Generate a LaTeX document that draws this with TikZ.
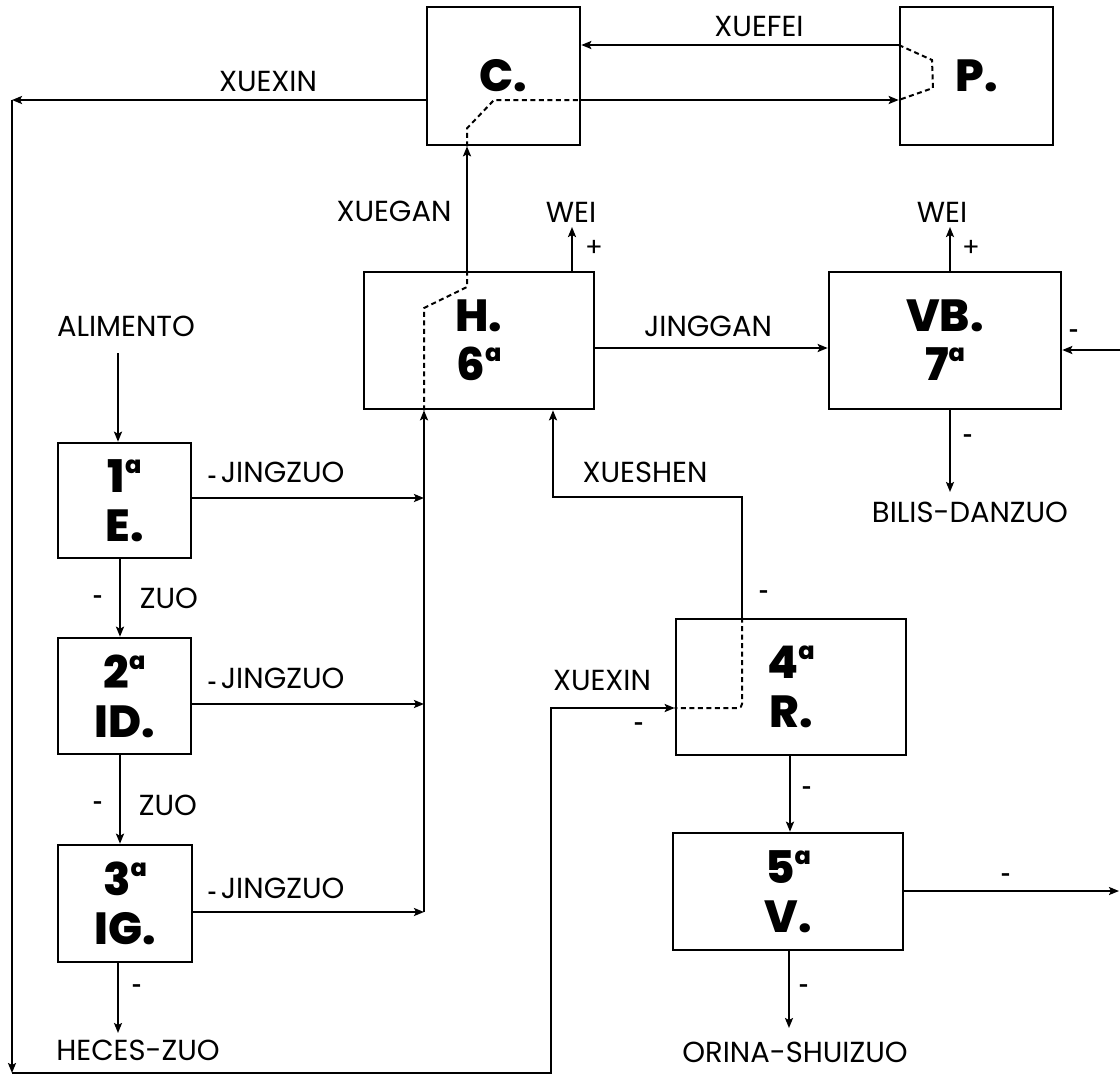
\documentclass[tikz,border=0pt]{standalone}
\usepackage{fontspec}
\setmainfont{Poppins}[BoldFont={Poppins ExtraBold}]
\usetikzlibrary{arrows.meta}
\newcommand\ordA{\raisebox{19pt}{\fontsize{24}{24}\selectfont a}}
\begin{document}
\begin{tikzpicture}[x=1pt,y=-1pt,
  box/.style={draw, line width=2.6pt, inner sep=0pt, align=center, font=\fontsize{45}{49}\selectfont\bfseries},
  lbl/.style={font=\fontsize{29}{30}\selectfont, inner sep=0pt},
  sgn/.style={font=\fontsize{16}{16}\selectfont\bfseries, inner sep=0pt},
  pls/.style={font=\fontsize{26}{26}\selectfont, inner sep=0pt},
  con/.style={line width=2.3pt},
  arr/.style={con, -{Stealth[length=10pt,width=8pt,inset=2pt]}},
  dsh/.style={line width=2pt, dash pattern=on 5pt off 3.5pt},
]
\useasboundingbox (0,0) rectangle (1120,1077);

% boxes
\node[box, minimum width=153pt, minimum height=138pt] (C) at (503.5,76) {C.};
\node[box, minimum width=153pt, minimum height=138pt] (P) at (976.5,76) {P.};
\node[box, minimum width=230pt, minimum height=137pt] (H) at (479,340.5) {H.\\6\ordA};
\node[box, minimum width=232pt, minimum height=137pt] (VB) at (945,340.5) {VB.\\7\ordA};
\node[box, minimum width=230pt, minimum height=136pt] (R) at (791,687) {4\ordA\\R.};
\node[box, minimum width=230pt, minimum height=117pt] (V) at (788,891.5) {5\ordA\\V.};
\node[box, minimum width=133pt, minimum height=115pt] (E) at (124.5,500.5) {1\ordA\\E.};
\node[box, minimum width=133pt, minimum height=116pt] (ID) at (124.5,696) {2\ordA\\ID.};
\node[box, minimum width=134pt, minimum height=117pt] (IG) at (125,903.5) {3\ordA\\IG.};

% helper coordinates
\coordinate (a0) at (118,353);
\coordinate (J1) at (424,498);
\coordinate (J2) at (424,704);
\coordinate (J3) at (424,912);
\coordinate (hz) at (118,1033);
\coordinate (xg) at (467,200);
\coordinate (w1) at (572,227);
\coordinate (w2) at (950,227);
\coordinate (jg) at (700,348);
\coordinate (bd) at (950,492);
\coordinate (rin) at (1120,350);
\coordinate (fe) at (740,45);
\coordinate (cp) at (740,100);
\coordinate (tl) at (12,100);
\coordinate (bl) at (12,1073);
\coordinate (br) at (551,1073);
\coordinate (rx) at (551,708);
\coordinate (s1) at (742,497);
\coordinate (s2) at (553,497);
\coordinate (rv) at (790,760);
\coordinate (vout) at (1119,891);
\coordinate (oz) at (789,1028);

% labels
\node[lbl] (lxuexin) at (268,81) {XUEXIN};
\node[lbl] (lxuefei) at (759,26) {XUEFEI};
\node[lbl] (lxuegan) at (394,211) {XUEGAN};
\node[lbl] (lwei1) at (571,212) {WEI};
\node[lbl] (lwei2) at (942,212) {WEI};
\node[lbl] (ljinggan) at (708,326) {JINGGAN};
\node[lbl] (lbilis) at (970,512) {BILIS-DANZUO};
\node[lbl] (lxueshen) at (645,472) {XUESHEN};
\node[lbl] (lxuexin2) at (602,680) {XUEXIN};
\node[lbl] (lorina) at (795,1052) {ORINA-SHUIZUO};
\node[lbl] (lalim) at (126,326) {ALIMENTO};
\node[lbl] (lzuo1) at (169,598) {ZUO};
\node[lbl] (lzuo2) at (168,805) {ZUO};
\node[lbl] (lheces) at (138,1050) {HECES-ZUO};
\node[lbl, anchor=west] (lj1) at (208,472) {{\fontsize{15}{15}\selectfont\bfseries -}\hspace{4pt}JINGZUO};
\node[lbl, anchor=west] (lj2) at (208,678) {{\fontsize{15}{15}\selectfont\bfseries -}\hspace{4pt}JINGZUO};
\node[lbl, anchor=west] (lj3) at (208,888) {{\fontsize{15}{15}\selectfont\bfseries -}\hspace{4pt}JINGZUO};

% signs
\node[pls] (pl1) at (594,248) {+};
\node[pls] (pl2) at (971,248) {+};
\node[sgn] (m1) at (1074,333) {-};
\node[sgn] (m2) at (968,438) {-};
\node[sgn] (m3) at (764,594) {-};
\node[sgn] (m4) at (639,726) {-};
\node[sgn] (m5) at (807,790) {-};
\node[sgn] (m6) at (1006,877) {-};
\node[sgn] (m7) at (804,988) {-};
\node[sgn] (m8) at (98,599) {-};
\node[sgn] (m9) at (98,805) {-};
\node[sgn] (m10) at (137,988) {-};

% connectors
\draw[arr] (a0) -- (a0 |- E.north);
\draw[arr] (E.south -| 120,0) -- (ID.north -| 120,0);
\draw[arr] (ID.south -| 120,0) -- (IG.north -| 120,0);
\draw[arr] (IG.south -| a0) -- (hz);
\draw[arr] (E.east |- J1) -- (J1);
\draw[arr] (ID.east |- J2) -- (J2);
\draw[arr] (IG.east |- J3) -- (J3);
\draw[arr] (J3) -- (J3 |- H.south);
\draw[arr] (xg |- H.north) -- (xg |- C.south);
\draw[arr] (w1 |- H.north) -- (w1);
\draw[arr] (w2 |- VB.north) -- (w2);
\draw[arr] (H.east |- jg) -- (VB.west |- jg);
\draw[arr] (VB.south -| bd) -- (bd);
\draw[arr] (rin) -- (rin -| VB.east);
\draw[arr] (P.west |- fe) -- (C.east |- fe);
\draw[arr] (C.east |- cp) -- (P.west |- cp);
\draw[arr] (C.west |- cp) -- (tl);
\draw[arr] (tl) -- (bl);
\draw[arr] (bl) -- (br) -- (rx) -- (R.west |- rx);
\draw[arr] (R.north -| s1) -- (s1) -- (s2) -- (s2 |- H.south);
\draw[arr] (R.south -| rv) -- (V.north -| rv);
\draw[arr] (V.east |- vout) -- (vout);
\draw[arr] (V.south -| oz) -- (oz);

% dashed internal paths
\draw[dsh] (xg |- C.south) -- ++(0,-18) -- (494,100) -- (C.east |- cp);
\draw[dsh] (P.west |- fe) -- (932,60) -- (933,88) -- (P.west |- cp);
\draw[dsh] (J3 |- H.south) -- (424,308) -- (467,287) -- (xg |- H.north);
\draw[dsh, rounded corners=4pt] (R.north -| s1) -- (742,708) -- (R.west |- rx);
\end{tikzpicture}
\end{document}
